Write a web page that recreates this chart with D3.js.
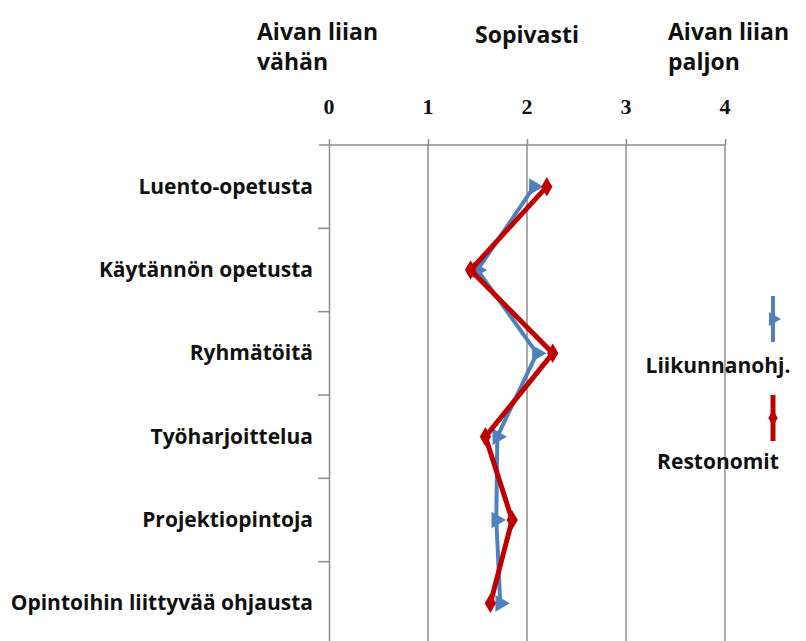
<!DOCTYPE html>
<meta charset="utf-8">
<style>
  body { margin: 0; background: #fff; }
  text { fill: #111; }
</style>
<body></body>
<script src="https://d3js.org/d3.v7.min.js"></script>
<script>
  // data
  const categories = [
    'Luento-opetusta',
    'Käytännön opetusta',
    'Ryhmätöitä',
    'Työharjoittelua',
    'Projektiopintoja',
    'Opintoihin liittyvää ohjausta'
  ]
  const liikunnanohj = [2.07, 1.5, 2.1, 1.7, 1.69, 1.73]
  const restonomit = [2.2, 1.43, 2.26, 1.58, 1.85, 1.63]
  const xTicks = [0, 1, 2, 3, 4]
  const seriesNames = ['Liikunnanohj.', 'Restonomit']

  const width = 806
  const height = 641

  const svg = d3.select('body')
    .append('svg')
    .attr('width', width)
    .attr('height', height)

  // scales
  const x = d3.scaleLinear().domain([0, 4]).range([329, 725])
  const y = d3.scaleBand().domain(categories).range([145, 645])

  // vertical gridlines
  svg.append('g')
    .selectAll('line')
    .data(xTicks.slice(1))
    .enter().append('line')
    .attr('x1', d => x(d)).attr('x2', d => x(d))
    .attr('y1', 145).attr('y2', 645)
    .attr('stroke', '#8c8c8c')
    .attr('stroke-width', 1.5)

  // top axis (line + ticks), labels drawn separately in serif
  const xAxis = d3.axisTop(x).tickValues(xTicks).tickSize(6).tickSizeOuter(0).tickFormat('')
  const gx = svg.append('g')
    .attr('transform', 'translate(0,145)')
    .call(xAxis)
  gx.select('.domain').attr('stroke', '#8c8c8c').attr('stroke-width', 1.5)
    .attr('d', `M${x(0) - 10},0H${x(4)}`)
  gx.selectAll('.tick line').attr('stroke', '#8c8c8c').attr('stroke-width', 1.5)

  svg.append('g')
    .selectAll('text')
    .data(xTicks)
    .enter().append('text')
    .attr('x', d => x(d))
    .attr('y', 114)
    .attr('text-anchor', 'middle')
    .style('font-family', '"Liberation Serif", serif')
    .style('font-weight', 'bold')
    .style('font-size', '22px')
    .text(d => d)

  // left axis
  const yAxis = d3.axisLeft(y).tickSize(11).tickSizeOuter(0).tickFormat('')
  const gy = svg.append('g')
    .attr('transform', `translate(${x(0)},0)`)
    .call(yAxis)
  gy.select('.domain').attr('stroke', '#8c8c8c').attr('stroke-width', 1.5)
  gy.selectAll('.tick').attr('transform', d => `translate(0,${y(d) + y.bandwidth()})`)
  gy.selectAll('.tick line').attr('stroke', '#8c8c8c').attr('stroke-width', 1.5)

  // category labels
  svg.append('g')
    .selectAll('text')
    .data(categories)
    .enter().append('text')
    .attr('x', 313)
    .attr('y', d => y(d) + y.bandwidth() / 2 + 7)
    .attr('text-anchor', 'end')
    .style('font-family', '"Open Sans", sans-serif')
    .style('font-weight', 'bold')
    .style('font-size', '21px')
    .text(d => d)

  // header texts (two-line ones as tspans)
  const header = svg.append('g')
    .style('font-family', '"Open Sans", sans-serif')
    .style('font-weight', 'bold')
    .style('font-size', '23px')
  const left = header.append('text').attr('x', 257).attr('y', 40)
  left.append('tspan').attr('x', 257).text('Aivan liian')
  left.append('tspan').attr('x', 257).attr('dy', 30).text('vähän')
  header.append('text').attr('x', 527).attr('y', 43).attr('text-anchor', 'middle').text('Sopivasti')
  const right = header.append('text').attr('x', 668).attr('y', 40)
  right.append('tspan').attr('x', 668).text('Aivan liian')
  right.append('tspan').attr('x', 668).attr('dy', 30).text('paljon')

  // series
  const series = [
    { name: seriesNames[0], values: liikunnanohj, color: '#4f81bd', width: 4, symbol: d3.symbolTriangle, size: 120, rotate: 90 },
    { name: seriesNames[1], values: restonomit, color: '#c00000', width: 5, symbol: d3.symbolDiamond, size: 110, rotate: 0 }
  ]

  const line = d3.line()
    .x(d => x(d.v))
    .y(d => y(d.c) + y.bandwidth() / 2)

  series.forEach(s => {
    const pts = s.values.map((v, i) => ({ v, c: categories[i] }))
    svg.append('path')
      .datum(pts)
      .attr('d', line)
      .attr('fill', 'none')
      .attr('stroke', s.color)
      .attr('stroke-width', s.width)
      .attr('stroke-linejoin', 'round')
    svg.append('g')
      .selectAll('path')
      .data(pts)
      .enter().append('path')
      .attr('d', d3.symbol().type(s.symbol).size(s.size))
      .attr('transform', d => `translate(${x(d.v)},${y(d.c) + y.bandwidth() / 2}) rotate(${s.rotate})`)
      .attr('fill', s.color)
  })

  // legend (vertical line samples)
  const legendY = [319, 418]
  const labelY = [373, 469]
  const legend = svg.append('g')
  series.forEach((s, i) => {
    const cy = legendY[i]
    legend.append('line')
      .attr('x1', 773).attr('x2', 773)
      .attr('y1', cy - 23).attr('y2', cy + 23)
      .attr('stroke', s.color)
      .attr('stroke-width', s.width)
    legend.append('path')
      .attr('d', d3.symbol().type(s.symbol).size(s.size * 0.7))
      .attr('transform', `translate(773,${cy}) rotate(${s.rotate})`)
      .attr('fill', s.color)
    legend.append('text')
      .attr('x', 718)
      .attr('y', labelY[i])
      .attr('text-anchor', 'middle')
      .style('font-family', '"Open Sans", sans-serif')
      .style('font-weight', 'bold')
      .style('font-size', '21px')
      .text(s.name)
  })
</script>
